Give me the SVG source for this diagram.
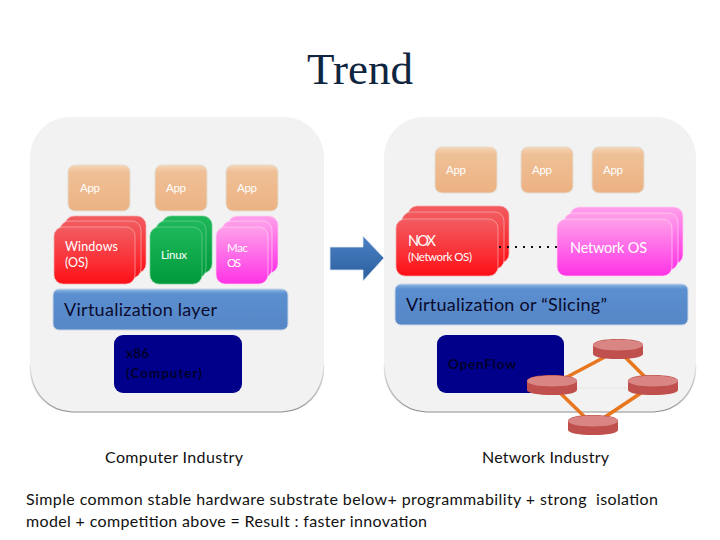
<svg xmlns="http://www.w3.org/2000/svg" width="720" height="540" viewBox="0 0 720 540">
<defs>
<linearGradient id="gApp" x1="0" y1="0" x2="0" y2="1"><stop offset="0" stop-color="#f6d6b6"/><stop offset="0.15" stop-color="#efc096"/><stop offset="1" stop-color="#ecb283"/></linearGradient>
<linearGradient id="gRed" x1="0" y1="0" x2="0" y2="1"><stop offset="0" stop-color="#f25c60"/><stop offset="0.6" stop-color="#fa3036"/><stop offset="1" stop-color="#fd0f16"/></linearGradient>
<linearGradient id="gGreen" x1="0" y1="0" x2="0" y2="1"><stop offset="0" stop-color="#1eb85a"/><stop offset="1" stop-color="#009a3c"/></linearGradient>
<linearGradient id="gPink" x1="0" y1="0" x2="0" y2="1"><stop offset="0" stop-color="#ffa0ea"/><stop offset="1" stop-color="#ff33e6"/></linearGradient>
<linearGradient id="gBar" x1="0" y1="0" x2="0" y2="1"><stop offset="0" stop-color="#8fb8e4"/><stop offset="0.12" stop-color="#5b8fd0"/><stop offset="1" stop-color="#5687c7"/></linearGradient>
<linearGradient id="gArrow" x1="0" y1="0" x2="0" y2="1"><stop offset="0" stop-color="#4a80c4"/><stop offset="1" stop-color="#2b5f9e"/></linearGradient>
<linearGradient id="gEdge" gradientUnits="userSpaceOnUse" x1="0" y1="360" x2="0" y2="412"><stop offset="0" stop-color="#9a9a9a" stop-opacity="0"/><stop offset="0.5" stop-color="#aaa" stop-opacity=".7"/><stop offset="1" stop-color="#8e8e8e"/></linearGradient>
<path id="cyl" d="M0 6C0 2 11 0 25 0S50 2 50 6V15C50 18 39 20 25 20S0 18 0 15Z"/>
</defs>
<style>
.panel{fill:#f2f2f2;stroke:none}
.edge{fill:none;stroke:url(#gEdge);stroke-width:1.2}
.app{fill:url(#gApp);stroke:#e3dccf;stroke-width:1}
.red{fill:url(#gRed);stroke:#f4b0b0;stroke-width:.7}
.green{fill:url(#gGreen);stroke:#6bcf8f;stroke-width:.7}
.pink{fill:url(#gPink);stroke:#ffd0f4;stroke-width:.7}
.bar{fill:url(#gBar);stroke:#c9d6e6;stroke-width:1}
.navy{fill:#00008b;stroke:none}
.link{stroke:#e8761e;stroke-width:3.5;fill:none}
.cylb{fill:#c0504d}
.cylt{fill:#d88583}
text{font-family:Lato,"Liberation Sans",sans-serif;white-space:pre}
.w{fill:#fff}
.s{font-size:11.5px}
.m{font-size:12.5px}
.d{fill:#0b0b2e;font-size:18px}
.k{fill:#00002a;font-size:13.5px;font-weight:700}
.c{fill:#111;font-size:16px}
</style>
<text x="360" y="84" text-anchor="middle" style="font-family:'Liberation Serif',serif;font-size:45px;fill:#10253f">Trend</text>
<g id="panel-left"><rect class="panel" x="30" y="117" width="294" height="295" rx="40"/><path class="edge" d="M30 365C31 395 50 411 72 412H282C304 411 323 395 324 365"/></g>
<g id="panel-right"><rect class="panel" x="384" y="117" width="312" height="295" rx="40"/><path class="edge" d="M384 365C385 395 404 411 426 412H654C676 411 695 395 696 365"/></g>
<g id="app-l1"><rect class="app" x="68" y="165" width="62" height="46" rx="7"/><text class="w s" x="80" y="192" textLength="20">App</text></g>
<g id="app-l2"><rect class="app" x="155" y="165" width="52" height="46" rx="7"/><text class="w s" x="166" y="192" textLength="20">App</text></g>
<g id="app-l3"><rect class="app" x="226" y="165" width="52" height="46" rx="7"/><text class="w s" x="237" y="192" textLength="20">App</text></g>
<g id="os-windows"><rect class="red" x="65" y="216" width="81" height="57" rx="9"/><rect class="red" x="60" y="221" width="81" height="57" rx="9"/><rect class="red" x="54" y="227" width="81" height="57" rx="9"/><text class="w m" x="65" y="251" textLength="53">Windows</text><text class="w m" x="65" y="267" textLength="23">(OS)</text></g>
<g id="os-linux"><rect class="green" x="162" y="216" width="50" height="57" rx="9"/><rect class="green" x="156" y="221" width="50" height="57" rx="9"/><rect class="green" x="150" y="227" width="52" height="57" rx="9"/><text class="w s" x="161" y="259" textLength="26">Linux</text></g>
<g id="os-mac"><rect class="pink" x="228" y="216" width="50" height="57" rx="9"/><rect class="pink" x="222" y="221" width="50" height="57" rx="9"/><rect class="pink" x="216" y="227" width="52" height="57" rx="9"/><text class="w s" x="227" y="252" textLength="21">Mac</text><text class="w s" x="227" y="267" textLength="14">OS</text></g>
<g id="virt-left"><rect class="bar" x="53" y="289" width="235" height="41" rx="6"/><text class="d" x="64" y="316" textLength="153">Virtualization layer</text></g>
<g id="x86"><rect class="navy" x="114" y="335" width="128" height="58" rx="9"/><text class="k" x="126" y="358" textLength="23">x86</text><text class="k" x="126" y="378" textLength="76">(Computer)</text></g>
<g id="arrow"><path d="M330 247H363V236L384 258L363 281V270H330Z" fill="url(#gArrow)" stroke="#dfe8f2" stroke-width=".8"/></g>
<g id="app-r1"><rect class="app" x="435" y="147" width="62" height="46" rx="7"/><text class="w s" x="446" y="174" textLength="20">App</text></g>
<g id="app-r2"><rect class="app" x="521" y="147" width="52" height="46" rx="7"/><text class="w s" x="532" y="174" textLength="20">App</text></g>
<g id="app-r3"><rect class="app" x="592" y="147" width="52" height="46" rx="7"/><text class="w s" x="603" y="174" textLength="20">App</text></g>
<g id="os-nox"><rect class="red" x="408" y="206" width="101" height="57" rx="9"/><rect class="red" x="402" y="212" width="102" height="57" rx="9"/><rect class="red" x="396" y="219" width="102" height="57" rx="9"/><text class="w" x="408" y="246" font-size="14.5" textLength="28">NOX</text><text class="w s" x="408" y="261" textLength="64">(Network OS)</text></g>
<g id="os-network"><rect class="pink" x="570" y="207" width="113" height="57" rx="9"/><rect class="pink" x="564" y="213" width="114" height="57" rx="9"/><rect class="pink" x="557" y="219" width="115" height="57" rx="9"/><text class="w" x="570" y="253" font-size="14.5" textLength="77">Network OS</text></g>
<g id="virt-right"><rect class="bar" x="395" y="284" width="293" height="41" rx="6"/><text class="d" x="406" y="311" textLength="201">Virtualization or “Slicing”</text></g>
<g id="openflow"><rect class="navy" x="437" y="335" width="127" height="58" rx="9"/><text class="k" x="448" y="369" textLength="68">OpenFlow</text></g>
<g id="connectors">
<path d="M499 247H557" stroke="#111" stroke-width="2.2" stroke-dasharray="2 6" fill="none"/>
<path d="M560 388H630" stroke="#e4e4dc" stroke-width="1" fill="none"/>
<path class="link" d="M618 350L552 385"/>
<path class="link" d="M618 350L653 385"/>
<path class="link" d="M552 385L593 425"/>
<path class="link" d="M653 385L593 425"/>
</g>
<g id="switch-top"><use href="#cyl" x="593" y="339" class="cylb"/><ellipse class="cylt" cx="618" cy="345" rx="25" ry="5.5"/></g>
<g id="switch-left"><use href="#cyl" x="527" y="375" class="cylb"/><ellipse class="cylt" cx="552" cy="381" rx="25" ry="5.5"/></g>
<g id="switch-right"><use href="#cyl" x="628" y="375" class="cylb"/><ellipse class="cylt" cx="653" cy="381" rx="25" ry="5.5"/></g>
<g id="switch-bottom"><use href="#cyl" x="568" y="415" class="cylb"/><ellipse class="cylt" cx="593" cy="421" rx="25" ry="5.5"/></g>
<text class="c" x="105" y="463" textLength="138">Computer Industry</text>
<text class="c" x="482" y="463" textLength="127">Network Industry</text>
<text class="c" x="26" y="505" textLength="632">Simple common stable hardware substrate below+ programmability + strong  isolation</text>
<text class="c" x="26" y="527" textLength="401">model + competition above = Result : faster innovation</text>
</svg>
